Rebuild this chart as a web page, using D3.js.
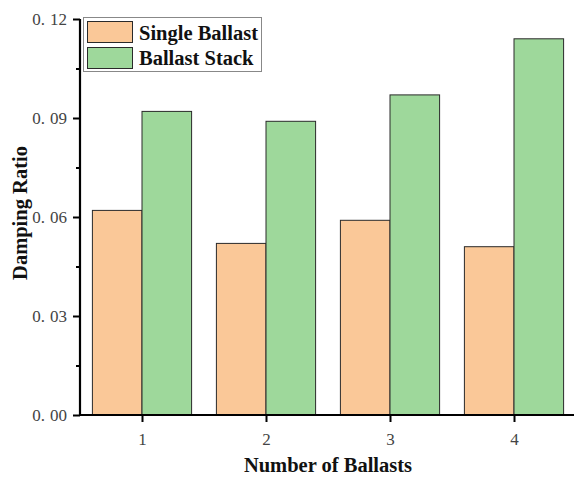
<!DOCTYPE html>
<html>
<head>
<meta charset="utf-8">
<script src="https://cdn.jsdelivr.net/npm/d3@7"></script>
<style>
  html, body { margin: 0; padding: 0; background: #fff; }
  svg { display: block; }
</style>
</head>
<body>
<svg id="chart" width="574" height="478"></svg>
<script>
// Damping ratio per number of ballasts
const categories = [1, 2, 3, 4];
const seriesNames = ["Single Ballast", "Ballast Stack"];
const singleBallast = [0.062, 0.052, 0.059, 0.051];
const ballastStack = [0.092, 0.089, 0.097, 0.114];
const yTicks = [0, 0.03, 0.06, 0.09, 0.12];
const yMinorTicks = [0.015, 0.045, 0.075, 0.105];
const colors = ["#FAC898", "#9ED89B"];

const svg = d3.select("#chart");
const margin = { left: 80, right: -2, top: 19, bottom: 63 };
const W = 574, H = 478;

const x = d3.scaleLinear().domain([0.5, 4.5]).range([margin.left, W - margin.right]);
const y = d3.scaleLinear().domain([0, 0.12]).range([H - margin.bottom, margin.top]);
const barW = 0.4;

const series = [singleBallast, ballastStack];
const serif = "'Liberation Serif', 'DejaVu Serif', serif";

// bars
series.forEach((vals, si) => {
  svg.append("g").selectAll("rect")
    .data(categories.map((c, i) => ({ c, v: vals[i] })))
    .join("rect")
    .attr("x", d => x(d.c + (si === 0 ? -barW : 0)))
    .attr("width", d => x(d.c + barW) - x(d.c))
    .attr("y", d => y(d.v))
    .attr("height", d => y(0) - y(d.v))
    .attr("fill", colors[si])
    .attr("stroke", "#2a2a2a")
    .attr("stroke-width", 1);
});

// y axis
const yAxis = svg.append("g")
  .attr("transform", `translate(${margin.left},0)`)
  .call(d3.axisLeft(y).tickValues(yTicks).tickSize(7).tickPadding(6).tickFormat(d3.format(".2f")));
yAxis.selectAll(".tick text").each(function () {
  const t = d3.select(this);
  const parts = t.text().split(".");
  t.text(null);
  t.append("tspan").text(parts[0] + ".");
  t.append("tspan").attr("dx", 5).text(parts[1]);
});
svg.append("g")
  .attr("transform", `translate(${margin.left},0)`)
  .call(d3.axisLeft(y).tickValues(yMinorTicks).tickSize(4).tickFormat(""))
  .select(".domain").remove();

// x axis
const xAxis = svg.append("g")
  .attr("transform", `translate(0,${y(0)})`)
  .call(d3.axisBottom(x).tickValues(categories).tickSize(7).tickPadding(11).tickFormat(d3.format("d")));

svg.selectAll(".domain").attr("stroke", "#000").attr("stroke-width", 2.2);
svg.selectAll(".tick line").attr("stroke", "#000").attr("stroke-width", 2);
svg.selectAll(".tick text")
  .attr("font-family", serif)
  .attr("font-size", 17)
  .attr("fill", "#444");
yAxis.select(".domain").attr("d", `M0,${y(0)}V${y(0.12)}`);
xAxis.select(".domain").attr("d", `M${margin.left},0H${W}`);

// axis titles
svg.append("text")
  .attr("x", 328).attr("y", 472)
  .attr("text-anchor", "middle")
  .attr("font-family", serif).attr("font-weight", "bold").attr("font-size", 20.5)
  .attr("fill", "#111")
  .text("Number of Ballasts");
svg.append("text")
  .attr("transform", "translate(27,213) rotate(-90)")
  .attr("text-anchor", "middle")
  .attr("font-family", serif).attr("font-weight", "bold").attr("font-size", 20.5)
  .attr("fill", "#111")
  .text("Damping Ratio");

// legend
const legend = svg.append("g");
legend.append("rect")
  .attr("x", 83.5).attr("y", 17.5).attr("width", 178).attr("height", 54)
  .attr("fill", "#fff").attr("stroke", "#888").attr("stroke-width", 1);
seriesNames.forEach((name, i) => {
  legend.append("rect")
    .attr("x", 87.5).attr("y", 21.5 + i * 26).attr("width", 45).attr("height", 21)
    .attr("fill", colors[i]).attr("stroke", "#2a2a2a").attr("stroke-width", 1);
  legend.append("text")
    .attr("x", 139).attr("y", 39.5 + i * 25)
    .attr("font-family", serif).attr("font-weight", "bold").attr("font-size", 20.5)
    .attr("fill", "#111")
    .text(name);
});
</script>
</body>
</html>
